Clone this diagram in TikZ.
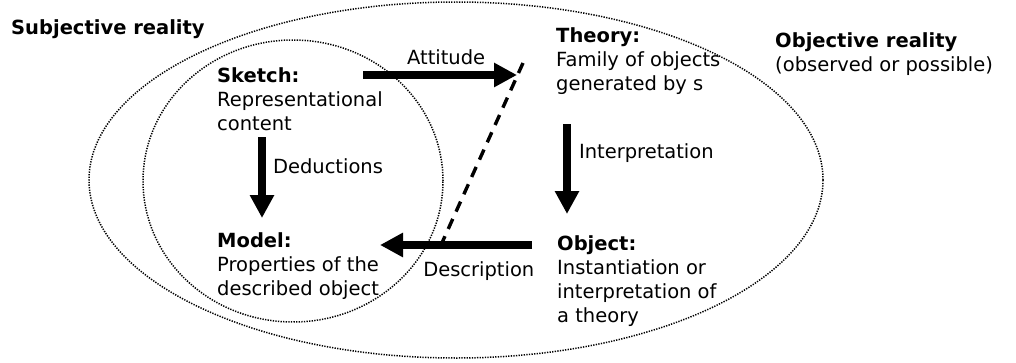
\documentclass[tikz,border=0pt]{standalone}
\usepackage{fontspec}
\setmainfont{DejaVu Sans}
\usetikzlibrary{arrows.meta}

\begin{document}
\begin{tikzpicture}[x=1pt, y=1pt,
    every node/.style={inner sep=0pt, font=\fontsize{19.5}{24}\selectfont},
    block/.style={anchor=north west, align=left},
    realm/.style={line width=1.5pt, dash pattern=on 1.3pt off 1.3pt},
    bigarrow/.style={line width=8pt, -{Triangle[length=23pt, width=23pt]}},
    link/.style={line width=3.4pt, dash pattern=on 11pt off 8pt}]
  \useasboundingbox (0,0) rectangle (1016,362);

  % the two realms
  \draw[realm] (456,182) ellipse [x radius=367, y radius=178];
  \draw[realm] (293,181) ellipse [x radius=150, y radius=141];

  \node[anchor=base west] (subj) at (11,327) {\textbf{Subjective reality}};
  \node[block] (obj) at (775,330) {\textbf{Objective reality}\\(observed or possible)};

  % the four blocks
  \node[block] (sketch) at (217,295) {\textbf{Sketch:}\\Representational\\content};
  \node[block] (theory) at (556,335) {\textbf{Theory:}\\Family of objects\\generated by s};
  \node[block] (model) at (217,130) {\textbf{Model:}\\Properties of the\\described object};
  \node[block] (object) at (557,127) {\textbf{Object:}\\Instantiation or\\interpretation of\\a theory};

  \coordinate (linktop) at (523,299);
  \coordinate (linkbot) at (441,117);
  \draw[link] (linktop) -- (linkbot);

  \draw[bigarrow] ([xshift=146pt,yshift=-8pt]sketch.north west) -- ([xshift=-39pt,yshift=-48pt]theory.north west)
    node[pos=0.54, above=6pt] {Attitude};
  \draw[bigarrow] ([xshift=45pt,yshift=-7pt]sketch.south west) -- ([xshift=45pt,yshift=14pt]model.north west)
    node[pos=0.36, right=7pt] {Deductions};
  \draw[bigarrow] ([xshift=11pt,yshift=-30pt]theory.south west) -- ([xshift=10pt,yshift=21pt]object.north west)
    node[pos=0.32, right=8pt] {Interpretation};
  \draw[bigarrow] ([xshift=-25pt,yshift=-10pt]object.north west) -- ([xshift=163pt,yshift=-13pt]model.north west)
    node[pos=0.35, below=13pt] {Description};
\end{tikzpicture}
\end{document}
